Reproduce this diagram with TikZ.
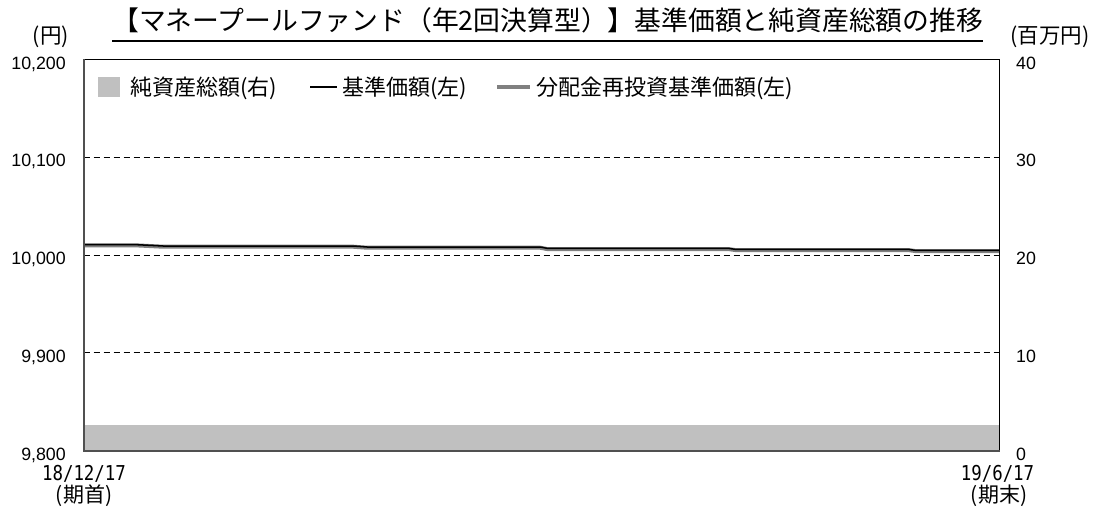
\documentclass[tikz,border=0pt]{standalone}
\usepackage{fontspec}
\newfontfamily\jpfont{Noto Sans CJK JP}
\newfontfamily\numfont{Liberation Sans}
\newfontfamily\datefont[FakeStretch=0.85]{DejaVu Sans Mono}
\usetikzlibrary{calc}
\definecolor{navfill}{HTML}{C0C0C0}
\definecolor{reinvcol}{HTML}{808080}
\definecolor{axiscol}{HTML}{505050}
\tikzset{
  titlestyle/.style={inner sep=0pt, font=\jpfont\fontsize{26.8pt}{30pt}\selectfont},
  legtext/.style={inner sep=0pt, anchor=base west, font=\jpfont\fontsize{22pt}{26pt}\selectfont},
  unitlab/.style={inner sep=0pt, anchor=base, font=\jpfont\fontsize{21.5pt}{25pt}\selectfont},
  leftlab/.style={inner sep=0pt, anchor=base east, font=\numfont\fontsize{17.8pt}{20pt}\selectfont},
  rightlab/.style={inner sep=0pt, anchor=base west, font=\numfont\fontsize{17.8pt}{20pt}\selectfont},
  datelab/.style={inner sep=0pt, anchor=base, font=\datefont\fontsize{20.5pt}{24pt}\selectfont},
  periodlab/.style={inner sep=0pt, anchor=base, font=\jpfont\fontsize{21pt}{24pt}\selectfont},
  gridline/.style={black, line width=1pt, dash pattern=on 6pt off 4pt},
  navline/.style={black, line width=1.5pt},
  reinvline/.style={reinvcol, line width=4pt},
  axisline/.style={axiscol, line width=2pt},
  framebox/.style={black, line width=1pt},
}
\begin{document}
\begin{tikzpicture}[x=1pt,y=-1pt]
\useasboundingbox (0,0) rectangle (1095,508);
\fill[white] (0,0) rectangle (1095,508);

% title
\node[titlestyle, anchor=base west] (title) at (112,31) {【マネープールファンド（年2回決算型）】基準価額と純資産総額の推移};
\draw[black, line width=2pt] ($(title.base west)+(0,10)$) -- ($(title.base east)+(0,10)$);

% unit labels
\node[unitlab] (unitL) at (51,44) {(円)};
\node[unitlab] (unitR) at (1050,44) {(百万円)};

% net assets area
\fill[navfill] (83.5,425) rectangle (999.5,450.5);

% grid lines
\foreach \yy in {157.25,255,352.75} {
  \draw[gridline] (83.5,\yy) -- (999.5,\yy);
}

% reinvested NAV (gray, thick)
\draw[reinvline] (83.5,245.4) -- (137,245.4) -- (163,246.7) -- (353,246.7) -- (367,247.7) -- (540,247.7) -- (547,249) -- (728,249) -- (735,250) -- (908,250) -- (915,251) -- (999.5,251);
% NAV (black, thin)
\draw[navline] (83.5,244.7) -- (137,244.7) -- (163,246) -- (353,246) -- (367,247) -- (540,247) -- (547,248.3) -- (728,248.3) -- (735,249.3) -- (908,249.3) -- (915,250.3) -- (999.5,250.3);

% frame
\draw[framebox] (83.5,59.5) rectangle (999.5,450.5);
\draw[axisline] (83.5,59.5) -- (83.5,450.5) -- (999.5,450.5);

% legend
\node[fill=navfill, inner sep=0pt, minimum width=22pt, minimum height=20pt] (key1) at (109,87) {};
\node[legtext] (lab1) at (130,95.5) {純資産総額(右)};
\draw[navline] (310,87) -- (337,87);
\node[legtext] (lab2) at (342,95.5) {基準価額(左)};
\draw[reinvline] (497,87) -- (530,87);
\node[legtext] (lab3) at (536,95.5) {分配金再投資基準価額(左)};

% left axis labels
\node[leftlab] (l1) at (66,70) {10,200};
\node[leftlab] (l2) at (66,166.5) {10,100};
\node[leftlab] (l3) at (66,264.5) {10,000};
\node[leftlab] (l4) at (66,362) {9,900};
\node[leftlab] (l5) at (66,460) {9,800};

% right axis labels
\node[rightlab] (r1) at (1016,70) {40};
\node[rightlab] (r2) at (1016,166.5) {30};
\node[rightlab] (r3) at (1016,264.5) {20};
\node[rightlab] (r4) at (1016,362) {10};
\node[rightlab] (r5) at (1016,460) {0};

% date labels
\node[datelab] (d1) at (84,480.5) {18/12/17};
\node[periodlab] (p1) at (84,502) {(期首)};
\node[datelab] (d2) at (997.5,480.5) {19/6/17};
\node[periodlab] (p2) at (999,502) {(期末)};
\end{tikzpicture}
\end{document}
